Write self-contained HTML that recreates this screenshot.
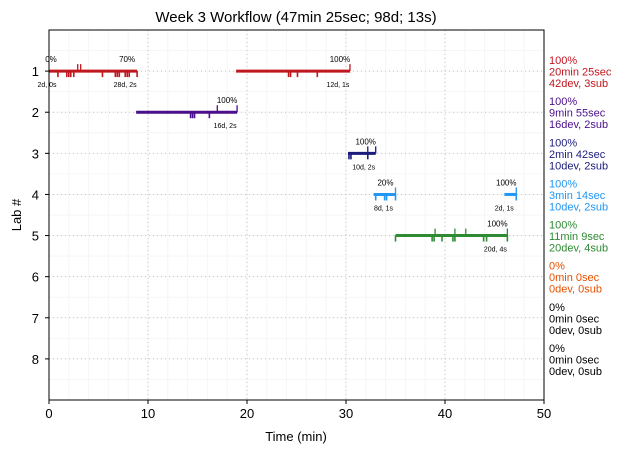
<!DOCTYPE html>
<html><head><meta charset="utf-8"><style>body{margin:0;background:#fff}svg{font-family:"Liberation Sans","DejaVu Sans",sans-serif}</style></head>
<body>
<svg id="c" width="630" height="453"></svg>
<script>
const labs=[1,2,3,4,5,6,7,8];
const colors=["#c0161e","#4a0f8c","#1b1b7c","#2196f3","#2e8b33","#e65100","#000","#000"];
const summaries=[["100%","20min 25sec","42dev, 3sub"],["100%","9min 55sec","16dev, 2sub"],["100%","2min 42sec","10dev, 2sub"],["100%","3min 14sec","10dev, 2sub"],["100%","11min 9sec","20dev, 4sub"],["0%","0min 0sec","0dev, 0sub"],["0%","0min 0sec","0dev, 0sub"],["0%","0min 0sec","0dev, 0sub"]];
const segLab=[1,1,2,3,4,4,5];
const segStart=[0,18.9,8.8,30.2,32.8,46.0,35.0];
const segEnd=[8.9,30.4,19.0,33.0,35.0,47.2,46.3];
const segPct=["70%","100%","100%","100%","20%","100%","100%"];
const segCnt=["28d, 2s","12d, 1s","16d, 2s","10d, 2s","8d, 1s","2d, 1s","20d, 4s"];
const devLab=[1,1,1,1,1,1,1,1,1,1,1,1,1,1,1,1,1,2,2,2,2,3,3,3,4,4,4,4,4,5,5,5,5,5,5,5,5,5];
const devT=[0.9,1.8,2.0,2.2,2.5,5.4,6.7,6.9,7.1,7.7,7.9,8.1,8.9,24.2,24.4,25.1,27.1,14.3,14.5,14.7,16.2,30.3,30.5,32.2,33.0,33.9,34.1,35.0,47.2,35.0,38.7,38.9,39.7,40.8,41.0,43.9,44.2,46.3];
const subLab=[1,1,1,2,2,3,3,4,4,5,5,5,5];
const subT=[2.9,3.2,30.4,17.0,19.0,32.2,33.0,35.0,47.2,39.0,41.0,42.1,46.3];
const xTicks=[0,10,20,30,40,50];
const NS="http://www.w3.org/2000/svg",svg=document.getElementById('c');
const L=49,R=544,T=30,B=400;
const X=v=>L+(v/50)*(R-L), Y=v=>T+(v/9)*(B-T);
function el(t,a,txt){const e=document.createElementNS(NS,t);for(const k in a)e.setAttribute(k,a[k]);if(txt!==undefined)e.textContent=txt;svg.appendChild(e);return e;}
for(let v=0;v<=50;v+=2){const e=el('line',{x1:X(v),x2:X(v),y1:T,y2:B,stroke:'#f6f6f6','stroke-width':1});}
for(let v=0;v<=9;v+=0.5){const e=el('line',{x1:L,x2:R,y1:Y(v),y2:Y(v),stroke:'#f6f6f6','stroke-width':1});}
xTicks.forEach(v=>{const g=el('line',{x1:X(v),x2:X(v),y1:T,y2:B,stroke:'#c4c4c4','stroke-dasharray':'1,3'});
const t=el('text',{x:X(v),y:B+18,'text-anchor':'middle','font-size':13},v);
el('line',{x1:X(v),x2:X(v),y1:B,y2:B+4,stroke:'#000'});});
labs.forEach((v,i)=>{const g=el('line',{x1:L,x2:R,y1:Y(v),y2:Y(v),stroke:'#c4c4c4','stroke-dasharray':'1,3'});
const t=el('text',{x:L-10,y:Y(v)+5,'text-anchor':'end','font-size':13},v);
el('line',{x1:L-4,x2:L,y1:Y(v),y2:Y(v),stroke:'#000'});
summaries[i].forEach((s,j)=>{const e=el('text',{x:549,y:Y(v)-7+j*11.5,'font-size':11,fill:colors[i]},s);});});
segLab.forEach((lab,i)=>{const c=colors[lab-1],y=Y(lab);
const s=el('line',{x1:X(segStart[i]),x2:X(segEnd[i]),y1:y,y2:y,stroke:c,'stroke-width':3});
const p=el('text',{x:X(segEnd[i])-10,y:y-9,'text-anchor':'middle','font-size':8},segPct[i]);
const n=el('text',{x:X(segEnd[i])-12,y:y+16,'text-anchor':'middle','font-size':7},segCnt[i]);});
{const p=el('text',{x:X(0)+2,y:Y(1)-9,'text-anchor':'middle','font-size':8},'0%');
const n=el('text',{x:X(0)-2,y:Y(1)+16,'text-anchor':'middle','font-size':7},'2d, 0s');}
devLab.forEach((lab,i)=>{const e=el('line',{x1:X(devT[i]),x2:X(devT[i]),y1:Y(lab),y2:Y(lab)+6,stroke:colors[lab-1],'stroke-width':1.6});});
subLab.forEach((lab,i)=>{const e=el('line',{x1:X(subT[i]),x2:X(subT[i]),y1:Y(lab)-7,y2:Y(lab),stroke:colors[lab-1],'stroke-width':1.3});});
const f=el('rect',{x:L,y:T,width:R-L,height:B-T,fill:'none',stroke:'#000','stroke-width':1});
const ti=el('text',{x:296,y:22,'text-anchor':'middle','font-size':15},'Week 3 Workflow (47min 25sec; 98d; 13s)');
const xl=el('text',{x:296,y:441,'text-anchor':'middle','font-size':13},'Time (min)');
const yl=el('text',{x:21,y:215,'text-anchor':'middle','font-size':13,transform:'rotate(-90 21 215)'},'Lab #');
</script>
</body></html>
